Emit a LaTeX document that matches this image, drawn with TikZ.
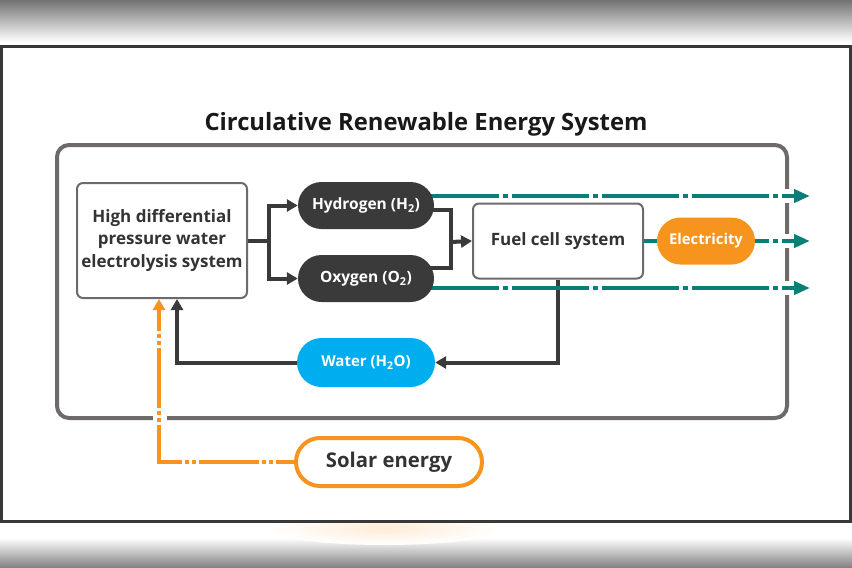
\documentclass[tikz,border=0pt]{standalone}
\usepackage{fontspec}
\setmainfont{Open Sans}
\usetikzlibrary{arrows.meta,shapes.misc}
\definecolor{framegray}{HTML}{6E6A6A}
\definecolor{darkpill}{HTML}{3A3A3A}
\definecolor{txtgray}{HTML}{333333}
\definecolor{tealline}{HTML}{0A7F78}
\definecolor{sunorange}{HTML}{F7941D}
\definecolor{watercyan}{HTML}{00AEEF}
\pgfdeclarelayer{back}
\pgfdeclarelayer{wires}
\pgfsetlayers{back,wires,main}

\begin{document}
\begin{tikzpicture}[x=1pt, y=-1pt,
	box/.style={draw=framegray, line width=2pt, rounded corners=6pt, fill=white, align=center, text=txtgray, font=\bfseries\fontsize{17}{22.5}\selectfont},
	pill/.style={rounded rectangle, minimum height=47pt, inner sep=0pt, text=white, font=\bfseries\fontsize{15.5}{17}\selectfont},
	wire/.style={draw=darkpill, line width=4pt},
	flow/.style={wire, -{Triangle[length=11pt,width=12pt]}},
	gridline/.style={draw=tealline, line width=4pt, dash pattern=on 77pt off 4pt on 5pt off 4pt, -{Triangle[length=16pt,width=13pt]}},
	sunflow/.style={draw=sunorange, line width=4pt, dash pattern=on 60pt off 3pt on 4pt off 3pt on 4pt off 3pt, -{Triangle[length=11pt,width=12pt]}},
	halo/.style={draw=white, line width=14pt}]
	\useasboundingbox (0,0) rectangle (852,568);
	% screen around the picture
	\shade[top color=black!55, bottom color=white] (0,0) rectangle (852,42);
	\shade[top color=white, bottom color=black!50] (0,538) rectangle (852,568);
	\begin{scope}
		\clip (0,522) rectangle (852,568);
		\shade[inner color=sunorange!18, outer color=white] (385,528) ellipse (118 and 17);
	\end{scope}
	\draw[line width=3pt, draw=black!78] (1.5,46) rectangle (850.5,521);

	\node[font=\bfseries\fontsize{23.8}{26}\selectfont, text=black!90] (title) at (426,124) {Circulative Renewable Energy System};

	% blocks
	\node[box, minimum width=170pt, minimum height=115pt] (elec) at (162,240.5) {High differential\\pressure water\\electrolysis system};
	\node[box, minimum width=170pt, minimum height=75pt] (fuel) at (558,241) {Fuel cell system};
	\node[pill, fill=darkpill, minimum width=136pt] (hydro) at (366,205.5) {Hydrogen (H\textsubscript{2})};
	\node[pill, fill=darkpill, minimum width=136pt] (oxy) at (366,278.5) {Oxygen (O\textsubscript{2})};
	\node[pill, fill=sunorange, minimum width=98pt, font=\bfseries\fontsize{14.8}{17}\selectfont] (power) at (706,241) {Electricity};
	\node[pill, fill=watercyan, minimum width=138pt, minimum height=49pt, font=\bfseries\fontsize{15}{17}\selectfont] (water) at (366,362.5) {Water (H\textsubscript{2}O)};
	\node[pill, draw=sunorange, line width=4pt, fill=white, text=txtgray, minimum width=186pt, minimum height=48pt, font=\bfseries\fontsize{20.3}{22}\selectfont] (solar) at (389,462) {Solar energy};

	\coordinate (merge) at (451,242);
	\coordinate (h2end) at (810,196);
	\coordinate (o2end) at (810,288);
	\coordinate (powend) at (810,241);

	% system frame, with gaps where the lines leave it
	\begin{pgfonlayer}{back}
		\draw[line width=4pt, draw=framegray, rounded corners=12pt] (57,145) rectangle (787,418);
		\draw[halo] (760,196) -- (h2end);
		\draw[halo] (760,288) -- (o2end);
		\draw[halo] (760,241) -- (powend);
		\draw[halo] (160,440) -- (160,400);
	\end{pgfonlayer}

	\begin{pgfonlayer}{wires}
		\draw[flow] (elec.east) -- ++(21,0) |- (hydro.west);
		\draw[flow] (elec.east) -- ++(21,0) |- (oxy.west);
		\draw[wire] (hydro.center |- 0,210) -| (merge);
		\draw[wire] (oxy.center |- 0,268) -| (merge);
		\draw[flow] (merge) -- (fuel.west);
		\draw[flow] (fuel.south) |- (water.east);
		\draw[flow] (water.west) -| ([xshift=101pt]elec.south west);
		\draw[gridline, dash phase=34pt] (hydro.center |- h2end) -- (h2end);
		\draw[gridline, dash phase=34pt] (oxy.center |- o2end) -- (o2end);
		\draw[gridline, solid, -] (fuel.east) -- (power.west);
		\draw[gridline, dash phase=63pt] (power.east) -- (powend);
		\draw[sunflow, dash phase=42pt] (solar.west) -| ([xshift=83pt]elec.south west);
	\end{pgfonlayer}
\end{tikzpicture}
\end{document}
